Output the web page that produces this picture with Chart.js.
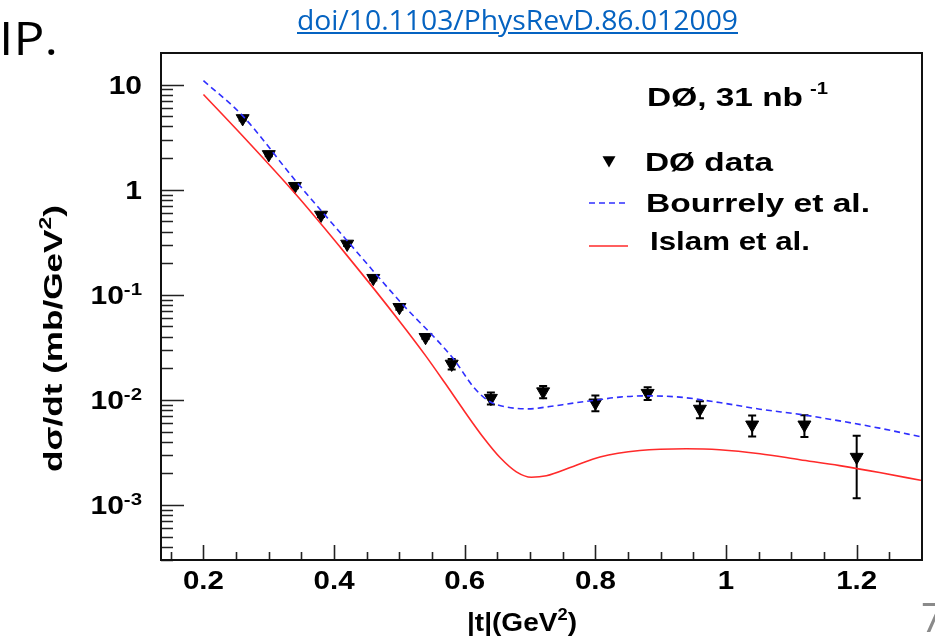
<!DOCTYPE html>
<html>
<head>
<meta charset="utf-8">
<script src="https://cdn.jsdelivr.net/npm/chart.js@4/dist/chart.umd.min.js"></script>
<style>
  html, body { margin: 0; padding: 0; background: #fff; overflow: hidden; }
  #wrap { position: relative; width: 935px; height: 640px; }
  #c { position: absolute; left: 0; top: 0; }
  .slide { position: absolute; font-family: "Open Sans", sans-serif; white-space: nowrap; line-height: 1; }
  #doi { left: 297px; top: 5px; font-size: 28px; color: #0563c1; text-decoration: underline; transform-origin: 0 0; }
  #ip { left: -1px; top: 14px; font-size: 46px; color: #000; transform-origin: 0 0; transform: scaleX(1.12); }
  #pg { left: 921px; top: 597px; font-size: 40px; color: #8a8a8a; }
</style>
</head>
<body>
<div id="wrap">
  <canvas id="c" width="935" height="640"></canvas>
  <div class="slide" id="doi">doi/10.1103/PhysRevD.86.012009</div>
  <div class="slide" id="ip">IP.</div>
  <div class="slide" id="pg">7</div>
</div>
<script>
// D0 elastic pp-bar data, |t| in GeV^2, dsigma/dt in mb/GeV^2
const dataT     = [0.26, 0.30, 0.34, 0.38, 0.42, 0.46, 0.50, 0.54, 0.58, 0.64, 0.72, 0.80, 0.88, 0.96, 1.04, 1.12, 1.20];
const dataSigma = [4.77, 2.17, 1.08, 0.575, 0.305, 0.144, 0.0762, 0.0395, 0.0220, 0.0104, 0.0120, 0.0094, 0.0116, 0.0082, 0.0058, 0.0058, 0.00286];
const dataErr   = [0.20, 0.09, 0.045, 0.025, 0.013, 0.007, 0.004, 0.0015, 0.0025, 0.00135, 0.0016, 0.0016, 0.0016, 0.0015, 0.0013, 0.00135, 0.0017];

// Bourrely et al. (blue dashed)
const bourrelyT     = [0.200, 0.259, 0.340, 0.419, 0.501, 0.582, 0.615, 0.638, 0.664, 0.697, 0.730, 0.766, 0.797, 0.837, 0.878, 0.929, 0.990, 1.052, 1.118, 1.194, 1.235, 1.300];
const bourrelySigma = [10.9, 5.13, 1.24, 0.333, 0.0861, 0.0249, 0.0129, 0.00966, 0.00857, 0.00823, 0.00865, 0.00933, 0.00987, 0.01064, 0.01094, 0.01064, 0.00944, 0.00817, 0.00721, 0.00601, 0.00539, 0.00443];

// Islam et al. (red solid)
const islamT     = [0.200, 0.259, 0.340, 0.419, 0.501, 0.540, 0.570, 0.600, 0.630, 0.654, 0.679, 0.702, 0.725, 0.766, 0.807, 0.868, 0.939, 0.990, 1.052, 1.113, 1.174, 1.235, 1.300];
const islamSigma = [8.07, 3.3, 0.925, 0.240, 0.0552, 0.0264, 0.01439, 0.00773, 0.00427, 0.00283, 0.00207, 0.00184, 0.00190, 0.00233, 0.00286, 0.00330, 0.00343, 0.00336, 0.00308, 0.00270, 0.00237, 0.00204, 0.00171];

// axes
const xMin = 0.135, xMax = 1.3;
const yMin = 3e-4, yMax = 20;
const xMajorTicks  = [0.2, 0.4, 0.6, 0.8, 1.0, 1.2];
const xTickLabels  = ['0.2', '0.4', '0.6', '0.8', '1', '1.2'];
const yMajorTicks  = [10, 1, 0.1, 0.01, 0.001];
const yTickLabels  = [['10', ''], ['1', ''], ['10', '-1'], ['10', '-2'], ['10', '-3']];

const BLUE = '#2f2fff', RED = '#ff2a2a';

function font(size) { return 'bold ' + size + 'px "Liberation Sans", Arial, sans-serif'; }

function richWidth(ctx, parts) {
  let w = 0;
  for (const p of parts) { ctx.font = font(p[1]); w += ctx.measureText(p[0]).width; }
  return w;
}

// parts: [text, size, dy]
function drawRich(ctx, parts, x, y, opt) {
  opt = opt || {};
  const w = richWidth(ctx, parts);
  const sx = opt.fit ? opt.fit / w : (opt.sx || 1);
  let x0 = x;
  if (opt.align === 'right') x0 = x - w * sx;
  else if (opt.align === 'center') x0 = x - w * sx / 2;
  ctx.save();
  ctx.translate(x0, y);
  ctx.scale(sx, 1);
  ctx.textAlign = 'left';
  ctx.textBaseline = 'alphabetic';
  ctx.fillStyle = '#000';
  let cx = 0;
  for (const p of parts) {
    ctx.font = font(p[1]);
    ctx.fillText(p[0], cx, p[2] || 0);
    cx += ctx.measureText(p[0]).width;
  }
  ctx.restore();
}

const rootStyle = {
  id: 'rootStyle',
  beforeDatasetsDraw(chart) {
    const ctx = chart.ctx, xs = chart.scales.x, ys = chart.scales.y;
    const a = chart.chartArea;
    ctx.save();
    ctx.beginPath();
    ctx.rect(a.left, a.top, a.right - a.left, a.bottom - a.top);
    ctx.clip();
    ctx.strokeStyle = '#000';
    ctx.lineWidth = 2;
    dataT.forEach((t, i) => {
      const px = xs.getPixelForValue(t);
      const hi = ys.getPixelForValue(dataSigma[i] + dataErr[i]);
      const lo = ys.getPixelForValue(dataSigma[i] - dataErr[i]);
      ctx.beginPath();
      ctx.moveTo(px, hi); ctx.lineTo(px, lo);
      ctx.moveTo(px - 4, hi); ctx.lineTo(px + 4, hi);
      ctx.moveTo(px - 4, lo); ctx.lineTo(px + 4, lo);
      ctx.stroke();
    });
    ctx.restore();
  },
  afterDraw(chart) {
    const ctx = chart.ctx, xs = chart.scales.x, ys = chart.scales.y;
    const a = chart.chartArea;
    ctx.save();

    // ticks (inside, left and bottom only)
    ctx.strokeStyle = '#222';
    ctx.lineWidth = 1.6;
    ctx.beginPath();
    for (let k = -4; k <= 1; k++) {
      for (let m = 1; m <= 9; m++) {
        const v = m * Math.pow(10, k);
        if (v < yMin * 0.999 || v > yMax * 0.98) continue;
        const py = Math.round(ys.getPixelForValue(v)) + 0.5;
        ctx.moveTo(a.left, py);
        ctx.lineTo(a.left + (m === 1 ? 23 : 12), py);
      }
    }
    for (let i = 3; i <= 25; i++) {
      const v = i * 0.05;
      if (v <= xMin || v >= xMax) continue;
      const px = Math.round(xs.getPixelForValue(v)) + 0.5;
      const major = i % 4 === 0;
      ctx.moveTo(px, a.bottom);
      ctx.lineTo(px, a.bottom - (major ? 15 : 8));
    }
    ctx.stroke();

    // frame
    ctx.strokeStyle = '#111';
    ctx.lineWidth = 2;
    ctx.strokeRect(a.left, a.top, a.right - a.left, a.bottom - a.top);

    // tick labels
    xMajorTicks.forEach((v, i) => {
      drawRich(ctx, [[xTickLabels[i], 25]], xs.getPixelForValue(v), a.bottom + 29, { align: 'center', sx: 1.18 });
    });
    yMajorTicks.forEach((v, i) => {
      const py = ys.getPixelForValue(v);
      const lab = yTickLabels[i];
      const parts = lab[1] ? [[lab[0], 25], [lab[1], 17, -9]] : [[lab[0], 25]];
      drawRich(ctx, parts, 142, py + 9, { align: 'right', sx: 1.2 });
    });

    // axis titles
    drawRich(ctx, [['|t|(GeV', 26], ['2', 17, -11], [')', 26]], 467, 631, { fit: 110 });
    ctx.save();
    ctx.translate(62, 472);
    ctx.rotate(-Math.PI / 2);
    drawRich(ctx, [['d\u03c3/dt (mb/GeV', 26], ['2', 17, -11], [')', 26]], 0, 0, { fit: 267 });
    ctx.restore();

    // header and legend
    drawRich(ctx, [['D\u00d8, 31 nb', 25]], 647, 106, { fit: 156 });
    drawRich(ctx, [['-1', 16]], 810, 94, { fit: 18 });

    ctx.fillStyle = '#000';
    ctx.beginPath();
    const tx = 609, ty = 160, r = 7.5;
    ctx.moveTo(tx - r * 0.866, ty - r * 0.5);
    ctx.lineTo(tx + r * 0.866, ty - r * 0.5);
    ctx.lineTo(tx, ty + r);
    ctx.closePath();
    ctx.fill();
    drawRich(ctx, [['D\u00d8 data', 25]], 645, 171, { fit: 128 });

    ctx.lineWidth = 1.6;
    ctx.strokeStyle = BLUE;
    ctx.setLineDash([6, 4]);
    ctx.beginPath(); ctx.moveTo(589, 203); ctx.lineTo(627, 203); ctx.stroke();
    ctx.setLineDash([]);
    drawRich(ctx, [['Bourrely et al.', 26]], 646, 212, { fit: 224 });

    ctx.strokeStyle = RED;
    ctx.beginPath(); ctx.moveTo(589, 246); ctx.lineTo(628, 246); ctx.stroke();
    drawRich(ctx, [['Islam et al.', 25]], 650, 250, { fit: 160 });

    ctx.restore();
  }
};

new Chart(document.getElementById('c'), {
  type: 'scatter',
  data: {
    datasets: [
      {
        label: 'Bourrely et al.',
        data: bourrelyT.map((t, i) => ({ x: t, y: bourrelySigma[i] })),
        showLine: true,
        borderColor: BLUE,
        borderWidth: 1.6,
        borderDash: [6, 4],
        pointRadius: 0,
        cubicInterpolationMode: 'monotone',
        fill: false
      },
      {
        label: 'Islam et al.',
        data: islamT.map((t, i) => ({ x: t, y: islamSigma[i] })),
        showLine: true,
        borderColor: RED,
        borderWidth: 1.6,
        pointRadius: 0,
        cubicInterpolationMode: 'monotone',
        fill: false
      },
      {
        label: 'D\u00d8 data',
        data: dataT.map((t, i) => ({ x: t, y: dataSigma[i] })),
        showLine: false,
        pointStyle: 'triangle',
        rotation: 180,
        pointRadius: 7.5,
        backgroundColor: '#000',
        borderColor: '#000',
        borderWidth: 1
      }
    ]
  },
  options: {
    responsive: false,
    animation: false,
    devicePixelRatio: 1,
    layout: { padding: { left: 161, right: 13, top: 53, bottom: 80 } },
    plugins: { legend: { display: false }, tooltip: { enabled: false } },
    scales: {
      x: { type: 'linear', min: xMin, max: xMax, display: false },
      y: { type: 'logarithmic', min: yMin, max: yMax, display: false }
    }
  },
  plugins: [rootStyle]
});

const doi = document.getElementById('doi');
doi.style.transform = 'scaleX(' + (441 / doi.getBoundingClientRect().width) + ')';
</script>
</body>
</html>
